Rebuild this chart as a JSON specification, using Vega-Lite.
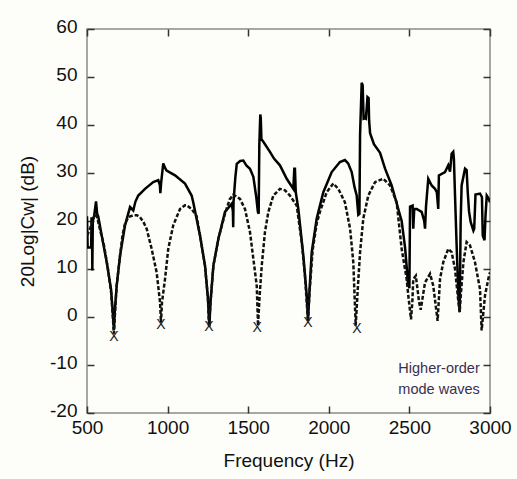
{
  "$schema": "https://vega.github.io/schema/vega-lite/v6.json",
  "width": 403,
  "height": 384,
  "autosize": {"type": "none"},
  "padding": {"left": 87, "top": 29, "right": 27, "bottom": 66},
  "background": "#fdfdf9",
  "config": {
    "font": "Liberation Sans",
    "view": {"stroke": "#8a8a8a", "strokeWidth": 1.5},
    "axis": {
      "domain": false,
      "grid": false,
      "tickColor": "#333333",
      "tickWidth": 1.5,
      "tickSize": -7,
      "labelFont": "Liberation Sans",
      "labelFontSize": 19,
      "labelColor": "#111111",
      "titleFont": "Liberation Sans",
      "titleFontSize": 19,
      "titleFontWeight": "normal",
      "titleColor": "#111111"
    }
  },
  "datasets": {
    "solid": [
      {"f": 500, "db": 21.0}, {"f": 504, "db": 14.5}, {"f": 526, "db": 14.5}, {"f": 528, "db": 20.5},
      {"f": 531, "db": 20.5}, {"f": 533, "db": 9.7}, {"f": 536, "db": 20.0}, {"f": 545, "db": 21.2},
      {"f": 556, "db": 24.1}, {"f": 563, "db": 21.5}, {"f": 570, "db": 20.9}, {"f": 591, "db": 17.0},
      {"f": 622, "db": 11.5}, {"f": 649, "db": 5.8}, {"f": 660, "db": 1.0}, {"f": 667, "db": -2.7},
      {"f": 672, "db": 1.0}, {"f": 684, "db": 6.5}, {"f": 705, "db": 12.8}, {"f": 736, "db": 19.1},
      {"f": 767, "db": 22.9}, {"f": 787, "db": 22.2}, {"f": 800, "db": 24.0}, {"f": 818, "db": 25.3},
      {"f": 860, "db": 26.7}, {"f": 911, "db": 28.1}, {"f": 942, "db": 28.5}, {"f": 952, "db": 27.5},
      {"f": 955, "db": 25.8}, {"f": 960, "db": 28.0}, {"f": 973, "db": 32.0}, {"f": 985, "db": 31.0},
      {"f": 994, "db": 30.5}, {"f": 1046, "db": 29.5}, {"f": 1108, "db": 27.8}, {"f": 1149, "db": 25.3},
      {"f": 1159, "db": 23.9}, {"f": 1201, "db": 17.0}, {"f": 1232, "db": 10.7}, {"f": 1250, "db": 4.0},
      {"f": 1259, "db": -2.0}, {"f": 1266, "db": 3.0}, {"f": 1284, "db": 10.7}, {"f": 1315, "db": 16.3},
      {"f": 1356, "db": 21.9}, {"f": 1398, "db": 23.6}, {"f": 1405, "db": 22.0}, {"f": 1407, "db": 18.7},
      {"f": 1409, "db": 24.0}, {"f": 1420, "db": 29.0}, {"f": 1429, "db": 31.9}, {"f": 1450, "db": 32.5},
      {"f": 1470, "db": 32.6}, {"f": 1490, "db": 31.5}, {"f": 1511, "db": 30.9}, {"f": 1532, "db": 29.2},
      {"f": 1550, "db": 25.0}, {"f": 1560, "db": 21.9}, {"f": 1565, "db": 21.5}, {"f": 1569, "db": 36.0},
      {"f": 1575, "db": 42.2}, {"f": 1578, "db": 41.5}, {"f": 1582, "db": 37.0}, {"f": 1594, "db": 36.5},
      {"f": 1635, "db": 34.4}, {"f": 1660, "db": 33.0}, {"f": 1697, "db": 31.6}, {"f": 1739, "db": 28.8},
      {"f": 1780, "db": 26.7}, {"f": 1786, "db": 30.9}, {"f": 1790, "db": 30.9}, {"f": 1795, "db": 26.0},
      {"f": 1811, "db": 22.5}, {"f": 1842, "db": 12.8}, {"f": 1863, "db": 4.5}, {"f": 1871, "db": -0.6},
      {"f": 1878, "db": 4.0}, {"f": 1894, "db": 13.5}, {"f": 1925, "db": 20.5}, {"f": 1966, "db": 26.0},
      {"f": 2018, "db": 30.2}, {"f": 2069, "db": 32.3}, {"f": 2100, "db": 32.7}, {"f": 2120, "db": 32.0},
      {"f": 2142, "db": 30.2}, {"f": 2160, "db": 27.0}, {"f": 2173, "db": 25.3}, {"f": 2183, "db": 21.3},
      {"f": 2190, "db": 21.5}, {"f": 2194, "db": 38.0}, {"f": 2204, "db": 48.8}, {"f": 2210, "db": 48.3},
      {"f": 2216, "db": 41.3}, {"f": 2225, "db": 41.4}, {"f": 2230, "db": 41.3}, {"f": 2240, "db": 45.8},
      {"f": 2247, "db": 45.6}, {"f": 2250, "db": 41.0}, {"f": 2256, "db": 38.3}, {"f": 2280, "db": 36.0},
      {"f": 2318, "db": 34.2}, {"f": 2349, "db": 30.9}, {"f": 2390, "db": 27.4}, {"f": 2431, "db": 22.5},
      {"f": 2452, "db": 20.0}, {"f": 2473, "db": 14.5}, {"f": 2483, "db": 10.5}, {"f": 2491, "db": 7.0},
      {"f": 2500, "db": 6.0}, {"f": 2504, "db": 23.0}, {"f": 2520, "db": 23.2}, {"f": 2524, "db": 18.4},
      {"f": 2530, "db": 22.5}, {"f": 2545, "db": 22.5}, {"f": 2576, "db": 21.9}, {"f": 2592, "db": 20.0},
      {"f": 2597, "db": 18.4}, {"f": 2603, "db": 23.0}, {"f": 2617, "db": 28.8}, {"f": 2638, "db": 27.4},
      {"f": 2659, "db": 26.7}, {"f": 2670, "db": 26.0}, {"f": 2679, "db": 22.5}, {"f": 2683, "db": 29.5},
      {"f": 2721, "db": 30.2}, {"f": 2741, "db": 31.6}, {"f": 2752, "db": 30.3}, {"f": 2762, "db": 34.0},
      {"f": 2772, "db": 34.4}, {"f": 2776, "db": 33.0}, {"f": 2783, "db": 25.3}, {"f": 2793, "db": 14.9},
      {"f": 2804, "db": 4.5}, {"f": 2812, "db": 1.0}, {"f": 2818, "db": 20.0}, {"f": 2824, "db": 27.4},
      {"f": 2845, "db": 30.9}, {"f": 2855, "db": 30.6}, {"f": 2862, "db": 26.0}, {"f": 2870, "db": 22.0},
      {"f": 2880, "db": 19.8}, {"f": 2897, "db": 18.0}, {"f": 2902, "db": 18.4}, {"f": 2910, "db": 25.5},
      {"f": 2938, "db": 25.7}, {"f": 2950, "db": 25.0}, {"f": 2955, "db": 17.0}, {"f": 2966, "db": 16.0},
      {"f": 2972, "db": 21.0}, {"f": 2980, "db": 25.3}, {"f": 2990, "db": 24.8}, {"f": 3000, "db": 23.9}
    ],
    "dashed": [
      {"f": 500, "db": 17.0}, {"f": 515, "db": 18.0}, {"f": 530, "db": 19.5}, {"f": 545, "db": 21.0},
      {"f": 556, "db": 21.5}, {"f": 565, "db": 20.5}, {"f": 575, "db": 19.0}, {"f": 590, "db": 17.0},
      {"f": 605, "db": 15.0}, {"f": 630, "db": 10.0}, {"f": 650, "db": 5.0}, {"f": 660, "db": 0.0},
      {"f": 667, "db": -3.5}, {"f": 674, "db": 1.0}, {"f": 684, "db": 6.5}, {"f": 705, "db": 12.8},
      {"f": 720, "db": 17.0}, {"f": 736, "db": 19.5}, {"f": 756, "db": 20.8}, {"f": 787, "db": 21.2},
      {"f": 810, "db": 21.2}, {"f": 829, "db": 20.8}, {"f": 850, "db": 19.8}, {"f": 870, "db": 18.4},
      {"f": 901, "db": 14.2}, {"f": 932, "db": 9.3}, {"f": 953, "db": 3.1}, {"f": 959, "db": -1.2},
      {"f": 965, "db": 3.0}, {"f": 984, "db": 7.9}, {"f": 1004, "db": 14.2}, {"f": 1035, "db": 19.1},
      {"f": 1077, "db": 22.5}, {"f": 1108, "db": 23.3}, {"f": 1118, "db": 23.3}, {"f": 1149, "db": 22.5},
      {"f": 1180, "db": 21.0}, {"f": 1201, "db": 17.0}, {"f": 1232, "db": 10.7}, {"f": 1250, "db": 4.0},
      {"f": 1257, "db": -1.8}, {"f": 1266, "db": 3.0}, {"f": 1284, "db": 10.7}, {"f": 1315, "db": 16.3},
      {"f": 1356, "db": 21.5}, {"f": 1385, "db": 24.5}, {"f": 1408, "db": 25.5}, {"f": 1449, "db": 24.6},
      {"f": 1480, "db": 22.5}, {"f": 1511, "db": 17.7}, {"f": 1532, "db": 12.1}, {"f": 1553, "db": 6.5},
      {"f": 1561, "db": -1.8}, {"f": 1570, "db": 4.0}, {"f": 1584, "db": 10.7}, {"f": 1604, "db": 17.7},
      {"f": 1625, "db": 21.9}, {"f": 1656, "db": 25.3}, {"f": 1697, "db": 26.7}, {"f": 1728, "db": 26.4},
      {"f": 1759, "db": 25.3}, {"f": 1801, "db": 23.2}, {"f": 1832, "db": 15.6}, {"f": 1852, "db": 8.6},
      {"f": 1871, "db": -1.0}, {"f": 1880, "db": 5.0}, {"f": 1900, "db": 14.0}, {"f": 1925, "db": 19.5},
      {"f": 1945, "db": 21.9}, {"f": 1987, "db": 26.0}, {"f": 2028, "db": 27.8}, {"f": 2059, "db": 26.7},
      {"f": 2100, "db": 23.9}, {"f": 2132, "db": 18.4}, {"f": 2152, "db": 11.4}, {"f": 2167, "db": -1.8},
      {"f": 2180, "db": 6.0}, {"f": 2194, "db": 13.5}, {"f": 2214, "db": 20.5}, {"f": 2245, "db": 25.3},
      {"f": 2287, "db": 28.1}, {"f": 2338, "db": 28.8}, {"f": 2380, "db": 27.4}, {"f": 2421, "db": 23.9},
      {"f": 2452, "db": 14.2}, {"f": 2483, "db": 7.9}, {"f": 2493, "db": 4.5}, {"f": 2510, "db": -0.5},
      {"f": 2518, "db": 3.0}, {"f": 2524, "db": 7.9}, {"f": 2540, "db": 8.6}, {"f": 2560, "db": 3.1},
      {"f": 2570, "db": 1.5}, {"f": 2597, "db": 7.2}, {"f": 2628, "db": 9.0}, {"f": 2648, "db": 6.5},
      {"f": 2675, "db": -0.8}, {"f": 2690, "db": 7.9}, {"f": 2710, "db": 11.4}, {"f": 2741, "db": 14.2},
      {"f": 2762, "db": 13.5}, {"f": 2783, "db": 10.0}, {"f": 2804, "db": 3.1}, {"f": 2812, "db": 1.0},
      {"f": 2820, "db": 5.0}, {"f": 2835, "db": 11.4}, {"f": 2855, "db": 15.6}, {"f": 2876, "db": 14.9},
      {"f": 2907, "db": 11.4}, {"f": 2938, "db": 5.8}, {"f": 2948, "db": -2.8}, {"f": 2969, "db": 4.5},
      {"f": 2990, "db": 8.0}, {"f": 3000, "db": 9.3}
    ],
    "marks": [
      {"f": 667, "db": -4.2}, {"f": 959, "db": -1.7}, {"f": 1257, "db": -2.1},
      {"f": 1555, "db": -2.3}, {"f": 1871, "db": -1.2}, {"f": 2175, "db": -2.5}
    ],
    "notes": [
      {"f": 2684, "db": -10.8, "label": "Higher-order"},
      {"f": 2684, "db": -15.2, "label": "mode waves"}
    ]
  },
  "resolve": {"axis": {"x": "independent", "y": "independent"}},
  "layer": [
    {
      "data": {"name": "solid"},
      "mark": {"type": "line", "color": "#000000", "strokeWidth": 2.5, "clip": true},
      "encoding": {
        "x": {"field": "f", "type": "quantitative", "scale": {"domain": [500, 3000], "nice": false},
          "axis": {"orient": "bottom", "title": "Frequency (Hz)", "values": [500, 1000, 1500, 2000, 2500, 3000], "labelExpr": "toString(datum.value)", "labelPadding": 12, "titlePadding": 14, "labelFlush": false}},
        "y": {"field": "db", "type": "quantitative", "scale": {"domain": [-20, 60], "nice": false},
          "axis": {"orient": "left", "title": "20Log|Cw| (dB)", "values": [-20, -10, 0, 10, 20, 30, 40, 50, 60], "labelExpr": "toString(datum.value)", "labelPadding": 17, "labelOffset": -3, "titlePadding": 12, "labelFlush": false}}
      }
    },
    {
      "data": {"name": "dashed"},
      "mark": {"type": "line", "color": "#111111", "strokeWidth": 2.5, "strokeDash": [4, 2], "clip": true},
      "encoding": {
        "x": {"field": "f", "type": "quantitative", "scale": {"domain": [500, 3000], "nice": false},
          "axis": {"orient": "top", "title": null, "labels": false, "values": [500, 1000, 1500, 2000, 2500, 3000]}},
        "y": {"field": "db", "type": "quantitative", "scale": {"domain": [-20, 60], "nice": false},
          "axis": {"orient": "right", "title": null, "labels": false, "values": [-20, -10, 0, 10, 20, 30, 40, 50, 60]}}
      }
    },
    {
      "data": {"name": "marks"},
      "mark": {"type": "text", "text": "X", "fontSize": 14, "font": "Liberation Sans", "color": "#222222", "baseline": "middle", "align": "center"},
      "encoding": {
        "x": {"field": "f", "type": "quantitative", "axis": null},
        "y": {"field": "db", "type": "quantitative", "axis": null}
      }
    },
    {
      "data": {"name": "notes"},
      "mark": {"type": "text", "fontSize": 14.5, "font": "Liberation Sans", "color": "#3b2f4f", "baseline": "middle", "align": "center"},
      "encoding": {
        "x": {"field": "f", "type": "quantitative", "axis": null},
        "y": {"field": "db", "type": "quantitative", "axis": null},
        "text": {"field": "label", "type": "nominal"}
      }
    }
  ]
}
